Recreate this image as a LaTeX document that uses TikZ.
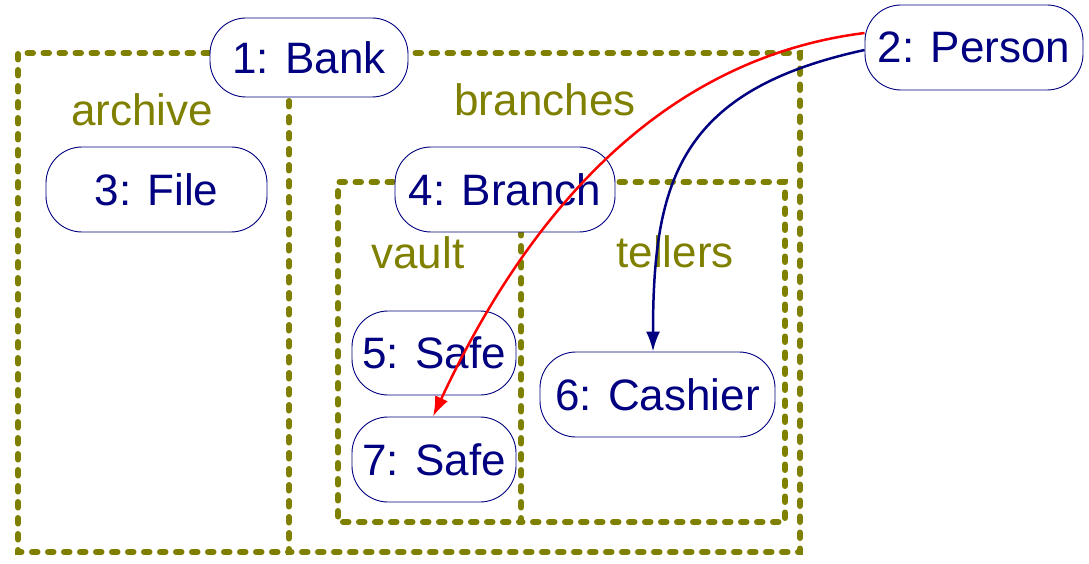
\documentclass[tikz,border=0pt]{standalone}
\usepackage{fontspec}
\setmainfont{Liberation Sans}
\usetikzlibrary{arrows.meta}
\definecolor{olivec}{RGB}{128,128,0}
\definecolor{navyc}{RGB}{0,0,128}
\tikzset{
  obj/.style={draw=navyc, line width=0.9pt, fill=white, rounded corners=36pt, text=navyc,
    font=\fontsize{44}{50}\selectfont, inner sep=0pt},
  region/.style={draw=olivec, line width=6pt, line cap=round, dash pattern=on 5.5pt off 10.5pt},
  rlabel/.style={text=olivec, font=\fontsize{44}{50}\selectfont, inner sep=0pt},
  link/.style={line width=2.5pt, -{Latex[length=20pt,width=14pt]}},
}
\begin{document}
\begin{tikzpicture}[x=1pt,y=-1pt]
\useasboundingbox (0,0) rectangle (1089,564);
% regions
\draw[region] (289,53) -- (18,53) -- (18,552) -- (289,552);
\draw[region] (289,53) rectangle (800,552);
\draw[region] (521,182) -- (338,182) -- (338,522) -- (521,522);
\draw[region] (521,182) rectangle (785,522);
\node[rlabel] (larchive) at (142,110) {archive};
\node[rlabel] (lbranches) at (545,100) {branches};
\node[rlabel] (lvault) at (418,253) {vault};
\node[rlabel] (ltellers) at (675,252) {tellers};
% objects
\node[obj, minimum width=198pt, minimum height=79pt] (bank) at (309,57.5) {1: Bank};
\node[obj, minimum width=218pt, minimum height=85pt] (person) at (974,47.5) {2: Person};
\node[obj, minimum width=221pt, minimum height=85pt] (file) at (156.5,189.5) {3: File};
\node[obj, minimum width=220pt, minimum height=85pt] (branch) at (505,189.5) {4: Branch};
\node[obj, minimum width=164pt, minimum height=84pt] (safe5) at (434,353) {5: Safe};
\node[obj, minimum width=235pt, minimum height=85pt] (cashier) at (657.5,394.5) {6: Cashier};
\node[obj, minimum width=164pt, minimum height=85pt] (safe7) at (434,459.5) {7: Safe};
% links
\coordinate (pr) at ([yshift=14.5pt]person.west);
\coordinate (pb) at ([yshift=-2.5pt]person.west);
\draw[link, red] (pr) .. controls (650,60) and (520,230) .. ([xshift=-1pt]safe7.north);
\draw[link, navyc] (pb) .. controls (680,90) and (653,180) .. ([xshift=-4.5pt]cashier.north);
\end{tikzpicture}
\end{document}
